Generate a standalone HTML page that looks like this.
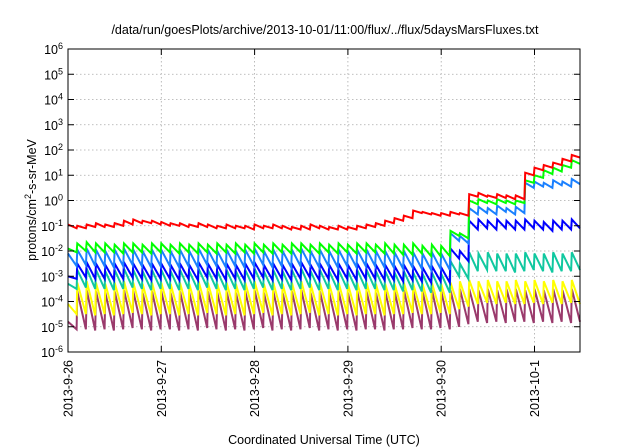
<!DOCTYPE html>
<html><head><meta charset="utf-8"><style>
html,body{margin:0;padding:0;background:#fff;}
svg{display:block;font-family:"Liberation Sans",sans-serif;}
</style></head><body>
<svg id="chart" width="640" height="448" viewBox="0 0 640 448" xmlns="http://www.w3.org/2000/svg">
<text x="325" y="34" font-size="12.5" text-anchor="middle">/data/run/goesPlots/archive/2013-10-01/11:00/flux/../flux/5daysMarsFluxes.txt</text>
<text transform="translate(36,200) rotate(-90)" font-size="12.5" text-anchor="middle">protons/cm<tspan baseline-shift="super" font-size="9">2</tspan>-s-sr-MeV</text>
<text x="324" y="444" font-size="12.5" text-anchor="middle">Coordinated Universal Time (UTC)</text>
<g id="grid"></g>
<g id="series"></g>
<g id="axes"></g>
</svg>
<script>
// data: log10 flux at each sawtooth peak (start of interval) and trough (end of interval), interval 0.1 day
const yTickExps = [-6,-5,-4,-3,-2,-1,0,1,2,3,4,5,6];
const xTickLabels = ["2013-9-26","2013-9-27","2013-9-28","2013-9-29","2013-9-30","2013-10-1"];
const toothStep = 0.1;
const redPeak = [-0.95,-1.0,-0.95,-0.9,-0.95,-0.9,-0.8,-0.75,-0.8,-0.8,-0.85,-0.9,-0.9,-0.95,-0.9,-0.95,-1.0,-0.95,-1.0,-1.0,-0.95,-1.0,-0.95,-1.0,-1.05,-1.0,-0.95,-1.0,-1.05,-1.0,-1.05,-1.0,-0.95,-0.9,-0.8,-0.7,-0.6,-0.4,-0.45,-0.5,-0.5,-0.45,-0.5,0.25,0.3,0.2,0.25,0.2,0.2,1.1,1.3,1.4,1.5,1.65,1.8];
const redTrough = [-1.1,-1.1,-1.05,-1.05,-1.05,-1.0,-0.95,-0.9,-0.9,-0.95,-1.0,-1.0,-1.05,-1.05,-1.05,-1.1,-1.1,-1.1,-1.1,-1.15,-1.1,-1.1,-1.1,-1.15,-1.15,-1.15,-1.1,-1.15,-1.15,-1.15,-1.15,-1.1,-1.05,-1.0,-0.9,-0.8,-0.7,-0.5,-0.55,-0.6,-0.6,-0.55,-0.6,0.15,0.15,0.1,0.1,0.05,0.05,1.0,1.2,1.3,1.4,1.55,1.7];
const greenPeak = [-1.9,-1.7,-1.65,-1.7,-1.7,-1.75,-1.7,-1.7,-1.75,-1.7,-1.7,-1.75,-1.7,-1.75,-1.7,-1.75,-1.7,-1.75,-1.7,-1.75,-1.7,-1.75,-1.7,-1.75,-1.7,-1.7,-1.75,-1.7,-1.75,-1.7,-1.75,-1.7,-1.7,-1.75,-1.7,-1.75,-1.75,-1.7,-1.8,-1.75,-1.8,-1.2,-1.3,0.0,0.05,0.0,0.05,0.0,0.0,0.8,1.0,1.2,1.3,1.4,1.6];
const greenTrough = [-2.05,-2.0,-2.05,-2.05,-2.05,-2.1,-2.05,-2.05,-2.1,-2.05,-2.05,-2.1,-2.05,-2.1,-2.05,-2.1,-2.05,-2.1,-2.05,-2.1,-2.05,-2.1,-2.05,-2.1,-2.05,-2.05,-2.1,-2.05,-2.1,-2.05,-2.1,-2.05,-2.05,-2.1,-2.1,-2.15,-2.15,-2.1,-2.2,-2.2,-2.2,-1.4,-1.5,-0.15,-0.1,-0.15,-0.1,-0.15,-0.1,0.7,0.9,1.05,1.15,1.3,1.45];
const lbluePeak = [-2.1,-1.95,-1.9,-1.95,-2.0,-1.95,-1.9,-1.95,-2.0,-1.95,-1.95,-2.0,-1.95,-2.0,-1.9,-1.95,-2.0,-1.95,-2.0,-1.95,-1.9,-2.0,-1.95,-2.0,-1.95,-1.9,-2.0,-1.95,-2.0,-1.95,-2.0,-1.95,-1.95,-2.0,-2.0,-2.05,-2.0,-2.05,-2.1,-2.05,-2.1,-1.3,-1.4,-0.3,-0.25,-0.3,-0.2,-0.3,-0.25,0.7,0.75,0.7,0.8,0.75,0.85];
const lblueTrough = [-2.6,-2.55,-2.6,-2.6,-2.65,-2.6,-2.55,-2.6,-2.65,-2.6,-2.6,-2.65,-2.6,-2.65,-2.55,-2.6,-2.65,-2.6,-2.65,-2.6,-2.55,-2.65,-2.6,-2.65,-2.6,-2.55,-2.65,-2.6,-2.65,-2.6,-2.65,-2.6,-2.6,-2.65,-2.65,-2.7,-2.65,-2.7,-2.75,-2.7,-2.75,-1.6,-1.7,-0.55,-0.5,-0.55,-0.45,-0.55,-0.5,0.5,0.55,0.5,0.6,0.55,0.65];
const bluePeak = [-3.0,-2.5,-2.45,-2.5,-2.55,-2.5,-2.45,-2.5,-2.55,-2.5,-2.5,-2.55,-2.5,-2.55,-2.45,-2.5,-2.55,-2.5,-2.55,-2.5,-2.45,-2.55,-2.5,-2.55,-2.5,-2.45,-2.55,-2.5,-2.55,-2.5,-2.55,-2.5,-2.5,-2.55,-2.55,-2.6,-2.55,-2.6,-2.65,-2.6,-2.65,-1.9,-2.0,-0.8,-0.75,-0.8,-0.75,-0.8,-0.8,-0.75,-0.8,-0.85,-0.8,-0.8,-0.75];
const blueTrough = [-3.1,-3.05,-3.1,-3.1,-3.15,-3.1,-3.05,-3.1,-3.15,-3.1,-3.1,-3.15,-3.1,-3.15,-3.05,-3.1,-3.15,-3.1,-3.15,-3.1,-3.05,-3.15,-3.1,-3.15,-3.1,-3.05,-3.15,-3.1,-3.15,-3.1,-3.15,-3.1,-3.1,-3.15,-3.15,-3.2,-3.15,-3.2,-3.25,-3.2,-3.25,-2.3,-2.4,-1.15,-1.1,-1.15,-1.1,-1.15,-1.15,-1.1,-1.15,-1.2,-1.15,-1.15,-1.1];
const tealPeak = [-3.3,-2.75,-2.7,-2.75,-2.8,-2.75,-2.7,-2.75,-2.8,-2.75,-2.75,-2.8,-2.75,-2.8,-2.7,-2.75,-2.8,-2.75,-2.8,-2.75,-2.7,-2.8,-2.75,-2.8,-2.75,-2.7,-2.8,-2.75,-2.8,-2.75,-2.8,-2.75,-2.75,-2.8,-2.8,-2.85,-2.8,-2.85,-2.9,-2.85,-2.9,-2.4,-2.5,-2.05,-2.1,-2.05,-2.1,-2.1,-2.1,-2.05,-2.1,-2.1,-2.05,-2.1,-2.05];
const tealTrough = [-3.5,-3.45,-3.5,-3.5,-3.55,-3.5,-3.45,-3.5,-3.55,-3.5,-3.5,-3.55,-3.5,-3.55,-3.45,-3.5,-3.55,-3.5,-3.55,-3.5,-3.45,-3.55,-3.5,-3.55,-3.5,-3.45,-3.55,-3.5,-3.55,-3.5,-3.55,-3.5,-3.5,-3.55,-3.55,-3.6,-3.55,-3.6,-3.65,-3.6,-3.65,-3.0,-3.1,-2.8,-2.75,-2.8,-2.8,-2.85,-2.8,-2.75,-2.8,-2.85,-2.8,-2.8,-2.75];
const yellowPeak = [-4.1,-3.25,-3.2,-3.25,-3.3,-3.25,-3.2,-3.25,-3.3,-3.25,-3.25,-3.3,-3.25,-3.3,-3.2,-3.25,-3.3,-3.25,-3.3,-3.25,-3.2,-3.3,-3.25,-3.3,-3.25,-3.2,-3.3,-3.25,-3.3,-3.25,-3.3,-3.25,-3.25,-3.3,-3.3,-3.3,-3.25,-3.3,-3.3,-3.25,-3.3,-3.25,-3.2,-3.15,-3.2,-3.15,-3.2,-3.2,-3.15,-3.2,-3.15,-3.2,-3.15,-3.2,-3.15];
const yellowTrough = [-4.5,-4.5,-4.55,-4.5,-4.55,-4.5,-4.45,-4.5,-4.55,-4.5,-4.5,-4.55,-4.5,-4.55,-4.45,-4.5,-4.55,-4.5,-4.55,-4.5,-4.45,-4.55,-4.5,-4.55,-4.5,-4.45,-4.55,-4.5,-4.55,-4.5,-4.55,-4.5,-4.5,-4.55,-4.5,-4.5,-4.45,-4.5,-4.5,-4.45,-4.5,-4.3,-4.2,-4.1,-4.05,-4.1,-4.05,-4.1,-4.1,-4.05,-4.1,-4.05,-4.1,-4.05,-4.1];
const purplePeak = [-4.8,-3.6,-3.55,-3.6,-3.65,-3.6,-3.55,-3.6,-3.65,-3.6,-3.6,-3.65,-3.6,-3.65,-3.55,-3.6,-3.65,-3.6,-3.65,-3.6,-3.55,-3.65,-3.6,-3.65,-3.6,-3.55,-3.65,-3.6,-3.65,-3.6,-3.65,-3.6,-3.6,-3.65,-3.6,-3.6,-3.55,-3.6,-3.6,-3.55,-3.6,-3.55,-3.5,-3.5,-3.55,-3.5,-3.55,-3.5,-3.5,-3.55,-3.5,-3.55,-3.5,-3.55,-3.5];
const purpleTrough = [-5.1,-5.1,-5.15,-5.1,-5.15,-5.1,-5.05,-5.1,-5.15,-5.1,-5.1,-5.15,-5.1,-5.15,-5.05,-5.1,-5.15,-5.1,-5.15,-5.1,-5.05,-5.15,-5.1,-5.15,-5.1,-5.05,-5.15,-5.1,-5.15,-5.1,-5.15,-5.1,-5.1,-5.15,-5.1,-5.1,-5.05,-5.1,-5.1,-5.05,-5.1,-5.0,-4.9,-4.8,-4.85,-4.8,-4.85,-4.8,-4.8,-4.85,-4.8,-4.85,-4.8,-4.85,-4.8];

const NS="http://www.w3.org/2000/svg";
const X0=68,X1=580,Y0=49,Y1=352,DAY=93.3;
const xs=t=>X0+t*DAY;
const ys=e=>Y1-(e+6)*(Y1-Y0)/12;
function mk(tag,attrs,parent){const el=document.createElementNS(NS,tag);for(const k in attrs)el.setAttribute(k,attrs[k]);parent.appendChild(el);return el;}
const grid=document.getElementById('grid'),axes=document.getElementById('axes'),ser=document.getElementById('series');

yTickExps.forEach(e=>{
  const y=ys(e);
  if(e>-6&&e<6){const g=mk('line',{x1:X0,x2:X1,y1:y,y2:y,stroke:'#aaa','stroke-width':0.8,'stroke-dasharray':'1.5,2.5'},grid);
  
  }
  const t1=mk('line',{x1:X0,x2:X0+6,y1:y,y2:y,stroke:'#000'},axes);
  
  
  const t2=mk('line',{x1:X1-6,x2:X1,y1:y,y2:y,stroke:'#000'},axes);
  
  
  const tx=mk('text',{x:X0-5,y:y+5,'font-size':12.5,'text-anchor':'end'},axes);
  
  
  tx.appendChild(document.createTextNode('10'));
  const sp=mk('tspan',{'baseline-shift':'super','font-size':9},tx);sp.textContent=String(e);
});
xTickLabels.forEach((lab,i)=>{
  const x=xs(i);
  if(i>0){const g=mk('line',{x1:x,x2:x,y1:Y0,y2:Y1,stroke:'#aaa','stroke-width':0.8,'stroke-dasharray':'1.5,2.5'},grid);
  
  }
  const t1=mk('line',{x1:x,x2:x,y1:Y1-6,y2:Y1,stroke:'#000'},axes);
  
  
  const t2=mk('line',{x1:x,x2:x,y1:Y0,y2:Y0+6,stroke:'#000'},axes);
  
  
  const tx=mk('text',{transform:`translate(${x+4.5},${Y1+8}) rotate(-90)`,'font-size':12.5,'text-anchor':'end'},axes);
  
  
  tx.textContent=lab;
});
const frame=mk('rect',{x:X0,y:Y0,width:X1-X0,height:Y1-Y0,fill:'none',stroke:'#000','stroke-width':1},axes);



const seriesList=[
 ['purple',purplePeak,purpleTrough,'#9a3a6c'],
 ['yellow',yellowPeak,yellowTrough,'#ffff00'],
 ['teal',tealPeak,tealTrough,'#10c8a0'],
 ['blue',bluePeak,blueTrough,'#0000ff'],
 ['light-blue',lbluePeak,lblueTrough,'#1a80ff'],
 ['green',greenPeak,greenTrough,'#00ff00'],
 ['red',redPeak,redTrough,'#ff0000']
];
seriesList.forEach(([nm,pk,tr,col])=>{
  const pts=[];
  for(let i=0;i<pk.length;i++){
    const t=i*toothStep;
    pts.push(xs(t).toFixed(1)+','+ys(pk[i]).toFixed(1));
    const t2=Math.min(t+toothStep*0.92,(X1-X0)/DAY);
    pts.push(xs(t2).toFixed(1)+','+ys(tr[i]).toFixed(1));
  }
  const pl=mk('polyline',{points:pts.join(' '),fill:'none',stroke:col,'stroke-width':2,'stroke-linejoin':'miter'},ser);
  
  
});
</script>
</body></html>
